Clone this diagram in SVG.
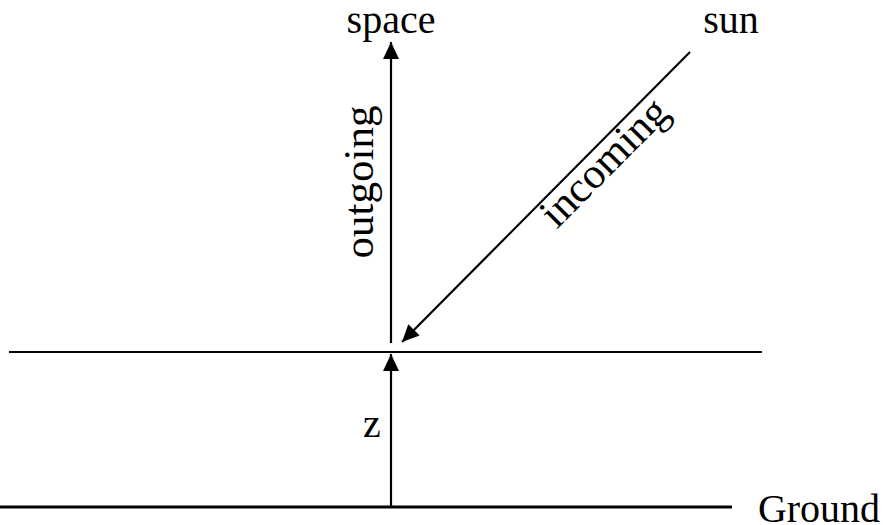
<svg xmlns="http://www.w3.org/2000/svg" width="883" height="525" viewBox="0 0 883 525">
<style>
text{font-family:"Liberation Serif","Times New Roman",serif;font-size:40px;fill:#000}
.big{font-size:43px}
.ln{stroke:#000;stroke-width:2.2;fill:none}
</style>
<defs>
<marker id="ah" markerUnits="userSpaceOnUse" markerWidth="18" markerHeight="16" refX="17" refY="8" orient="auto" viewBox="0 0 18 16">
<path d="M0,0 L17,8 L0,16 Z" fill="#000"/>
</marker>
</defs>
<rect width="883" height="525" fill="#fff"/>
<g id="connectors">
<line class="ln" x1="9" y1="352" x2="762" y2="352"/>
<line class="ln" x1="0" y1="507" x2="732" y2="507" style="stroke-width:3"/>
<line class="ln" x1="391" y1="507" x2="391" y2="354" marker-end="url(#ah)"/>
<line class="ln" x1="391" y1="343" x2="391" y2="42" marker-end="url(#ah)"/>
<line class="ln" x1="690" y1="52" x2="402" y2="342" marker-end="url(#ah)"/>
</g>
<g id="space"><text x="391" y="33" text-anchor="middle">space</text></g>
<g id="sun"><text x="731" y="33" text-anchor="middle">sun</text></g>
<g id="ground"><text x="819" y="522" text-anchor="middle">Ground</text></g>
<g id="z"><text x="372" y="437" text-anchor="middle">z</text></g>
<g id="outgoing"><text class="big" transform="translate(373,182) rotate(-90)" text-anchor="middle">outgoing</text></g>
<g id="incoming"><text class="big" transform="translate(614,172) rotate(-45.2)" text-anchor="middle">incoming</text></g>
</svg>
